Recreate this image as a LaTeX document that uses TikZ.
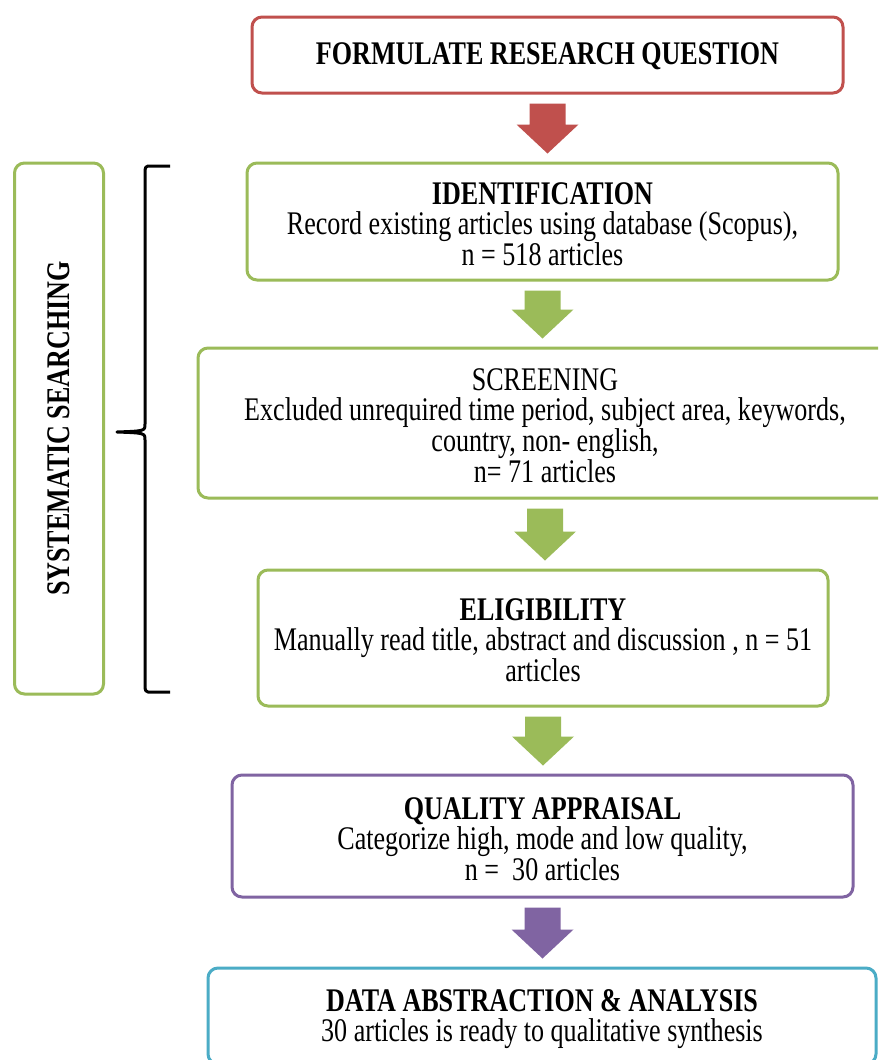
\documentclass[tikz,border=0pt]{standalone}
\usepackage{fontspec}
\setmainfont{Liberation Serif}[FakeStretch=0.79]
\usetikzlibrary{calc}
\definecolor{cred}{HTML}{C0504D}
\definecolor{cgreen}{HTML}{9BBB59}
\definecolor{cpurple}{HTML}{8064A2}
\definecolor{cblue}{HTML}{4BACC6}
\newcommand{\dn}[1]{\rule{0pt}{#1}}
\tikzset{
  stepbox/.style={draw=#1, line width=3pt, rounded corners=10pt, fill=white,
    align=center, font=\fontsize{33}{30}\selectfont, inner sep=0pt},
  bracestyle/.style={line width=3pt, line join=round, line cap=butt},
}
\newcommand{\blockarrow}[3]{%
  \fill[#1] let \p1=(#2.south), \p2=(#3.north) in
   (\x1-18pt,\y1-9pt) -- (\x1+18pt,\y1-9pt) -- (\x1+18pt,\y2+37pt) --
   (\x1+31pt,\y2+37pt) -- (\x1,\y2+8pt) -- (\x1-31pt,\y2+37pt) --
   (\x1-18pt,\y2+37pt) -- cycle;}
\begin{document}
\begin{tikzpicture}[x=1pt,y=-1pt]
\fill[white] (0,0) rectangle (878,1060);
\useasboundingbox (0,0) rectangle (878,1060);
\clip (0,0) rectangle (878,1060);

\node[stepbox=cred, minimum width=591pt, minimum height=76pt] (q) at (547.5,55)
  {\dn{24pt}\textbf{FORMULATE RESEARCH QUESTION}};
\node[stepbox=cgreen, minimum width=591pt, minimum height=117pt] (id) at (542.5,221.5)
  {\dn{28pt}\textbf{IDENTIFICATION}\\Record existing articles using database (Scopus),\\n = 518 articles};
\node[stepbox=cgreen, minimum width=694pt, minimum height=150pt] (sc) at (545,423)
  {\dn{28pt}SCREENING\\Excluded unrequired time period, subject area, keywords,\\country, non- english,\\n= 71 articles};
\node[stepbox=cgreen, minimum width=570pt, minimum height=136pt] (el) at (543,638)
  {\dn{26pt}\textbf{ELIGIBILITY}\\Manually read title, abstract and discussion , n = 51\\articles};
\node[stepbox=cpurple, minimum width=621pt, minimum height=122pt] (qa) at (542.5,836)
  {\dn{28pt}\textbf{QUALITY APPRAISAL}\\Categorize high, mode and low quality,\\n = \ 30 articles};
\node[stepbox=cblue, minimum width=668pt, minimum height=96pt] (da) at (542,1016)
  {\dn{29pt}\textbf{DATA ABSTRACTION \& ANALYSIS}\\30 articles is ready to qualitative synthesis};

\node[stepbox=cgreen, rotate=90, minimum width=531pt, minimum height=89pt] (ss) at (59,428.5)
  {\textbf{SYSTEMATIC SEARCHING}};

\blockarrow{cred}{q}{id}
\blockarrow{cgreen}{id}{sc}
\blockarrow{cgreen}{sc}{el}
\blockarrow{cgreen}{el}{qa}
\blockarrow{cpurple}{qa}{da}

\coordinate (btop) at (170,166);
\coordinate (bbot) at (170,692);
\coordinate (btip) at (117,432);
\draw[bracestyle] (btop) -- (148,166) to[out=180,in=90] (145,170) -- (145,424)
  .. controls (145,431) .. (btip)
  .. controls (145,433) .. (145,440) -- (145,688) to[out=270,in=180] (148,692) -- (bbot);
\end{tikzpicture}
\end{document}
